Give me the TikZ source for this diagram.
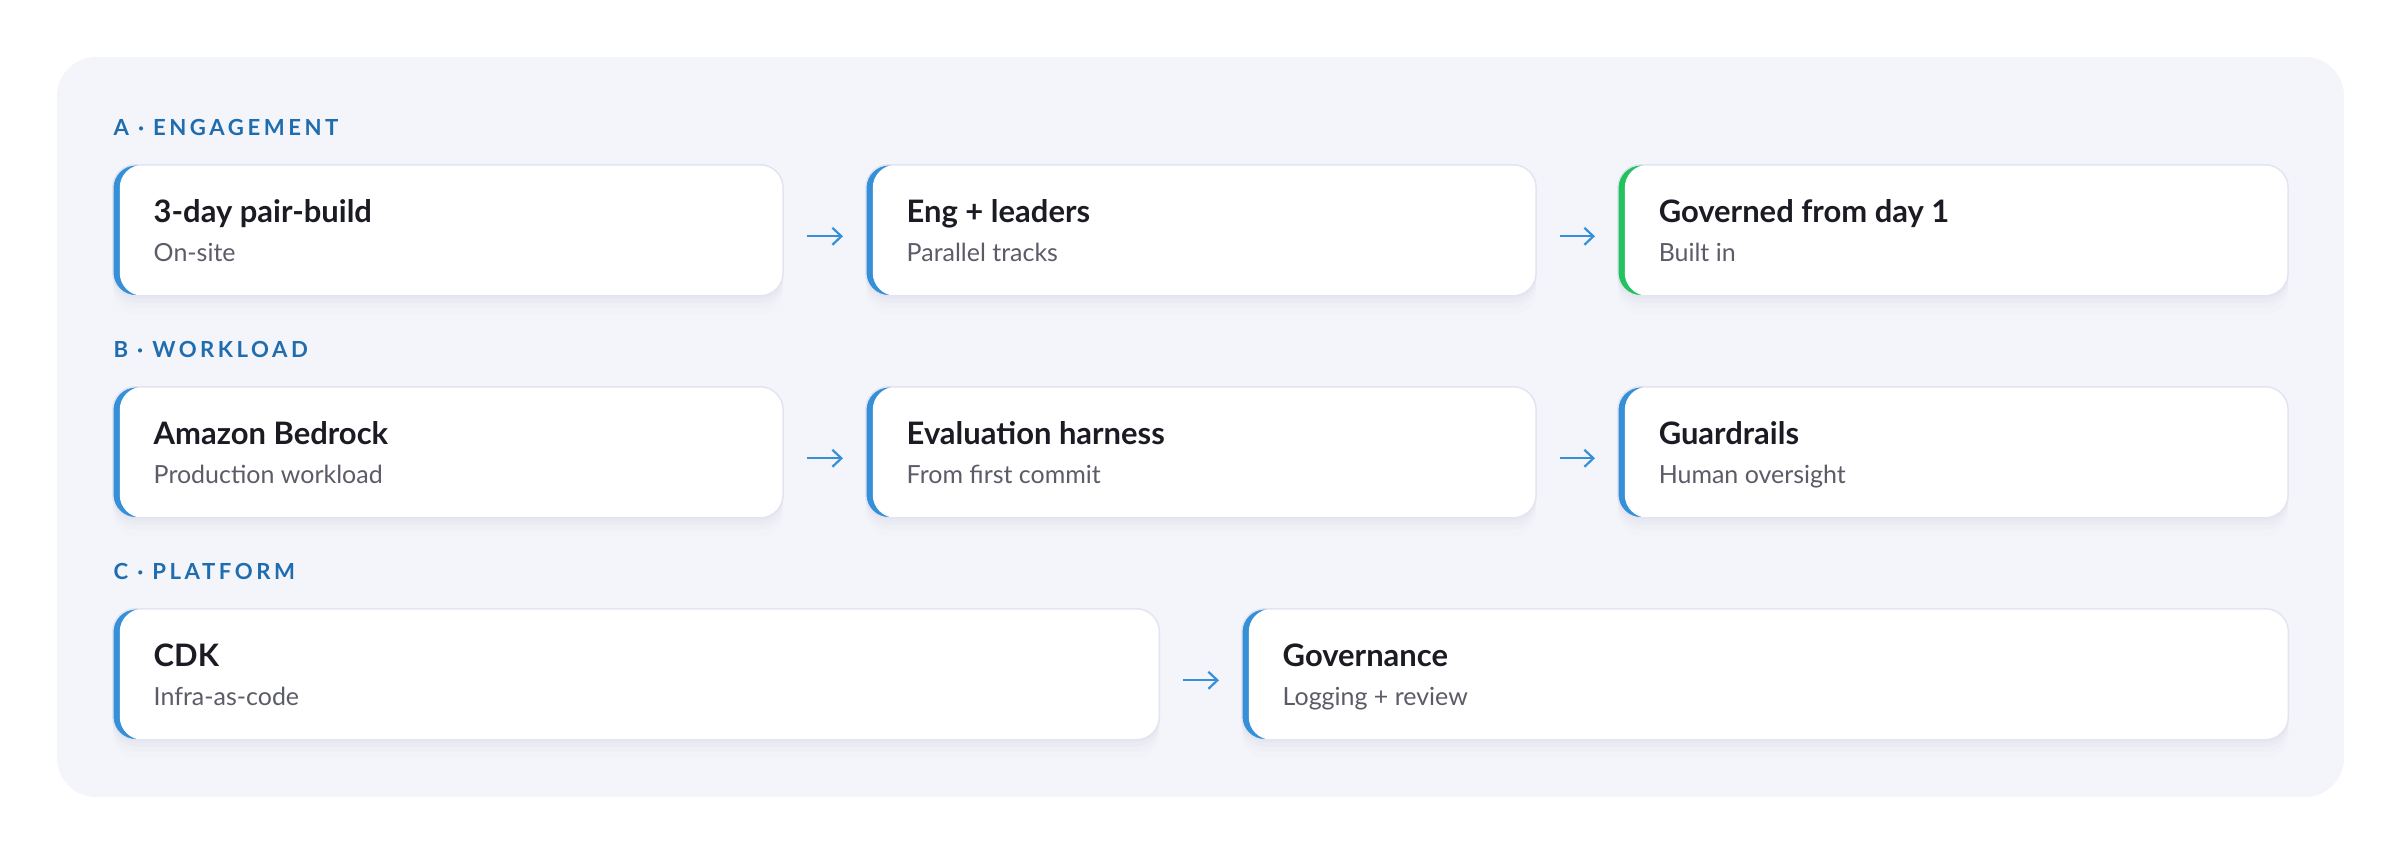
\documentclass[tikz,border=0pt]{standalone}
\usepackage{fontspec}
\setmainfont{Lato}
\usetikzlibrary{arrows.meta}

\definecolor{panelbg}{HTML}{F4F5FA}
\definecolor{cardline}{HTML}{E2E5F1}
\definecolor{barblue}{HTML}{3590D8}
\definecolor{bargreen}{HTML}{22C35E}
\definecolor{titleink}{HTML}{1B1B24}
\definecolor{subink}{HTML}{5B5C68}
\definecolor{rowlabel}{HTML}{1F6DAF}
\definecolor{shadowink}{HTML}{4A5580}

\tikzset{
  card/.style={draw=cardline, line width=0.015cm, fill=white,
    rounded corners=0.23cm, anchor=north west, inner sep=0pt,
    minimum width=6.7cm, minimum height=1.31cm,
    preaction={fill=shadowink, fill opacity=0.018, transform canvas={yshift=-0.03cm}},
    preaction={fill=shadowink, fill opacity=0.018, transform canvas={yshift=-0.07cm}},
    preaction={fill=shadowink, fill opacity=0.015, transform canvas={yshift=-0.12cm}},
    preaction={fill=shadowink, fill opacity=0.012, transform canvas={yshift=-0.18cm}},
    path picture={
      \fill[#1] (path picture bounding box.south west) rectangle (path picture bounding box.north east);
      \fill[white, rounded corners=0.23cm] ([xshift=0.07cm]path picture bounding box.south west)
        rectangle ([xshift=0.5cm]path picture bounding box.north east);}},
  card/.default=barblue,
  cardtitle/.style={anchor=base west, inner sep=0pt, text=titleink,
    font=\fontsize{8.8pt}{10pt}\selectfont\bfseries},
  cardsub/.style={anchor=base west, inner sep=0pt, text=subink,
    font=\fontsize{7.1pt}{8pt}\selectfont},
  rowhead/.style={anchor=base west, inner sep=0pt, text=rowlabel,
    font=\fontsize{6.3pt}{7pt}\selectfont\bfseries\addfontfeature{LetterSpace=16}},
  flow/.style={-{Straight Barb[length=0.09cm, width=0.17cm]}, barblue,
    line width=0.022cm, shorten <=0.23cm, shorten >=0.22cm}
}

\begin{document}
\begin{tikzpicture}[x=0.01cm, y=-0.01cm]
\useasboundingbox (0,0) rectangle (2400,854);
\fill [panelbg, rounded corners=0.39cm] (57,57) rectangle (2344,797);

% row A
\node [rowhead] (rowA) at (113,135) {A · ENGAGEMENT};
\node [card] (a1) at (112,164) {};
\node [card] (a2) at (865,164) {};
\node [card=bargreen] (a3) at (1617,164) {};
\node [cardtitle] (a1t) at ([xshift=0.41cm, yshift=-0.58cm]a1.north west) {3-day pair-build};
\node [cardsub] (a1s) at ([xshift=0.41cm, yshift=-0.97cm]a1.north west) {On-site};
\node [cardtitle] (a2t) at ([xshift=0.41cm, yshift=-0.58cm]a2.north west) {Eng + leaders};
\node [cardsub] (a2s) at ([xshift=0.41cm, yshift=-0.97cm]a2.north west) {Parallel tracks};
\node [cardtitle] (a3t) at ([xshift=0.41cm, yshift=-0.58cm]a3.north west) {Governed from day 1};
\node [cardsub] (a3s) at ([xshift=0.41cm, yshift=-0.97cm]a3.north west) {Built in};
\draw [flow] ([yshift=-0.06cm]a1.east) -- ([yshift=-0.06cm]a2.west);
\draw [flow] ([yshift=-0.06cm]a2.east) -- ([yshift=-0.06cm]a3.west);

% row B
\node [rowhead] (rowB) at (113,357) {B · WORKLOAD};
\node [card] (b1) at (112,386) {};
\node [card] (b2) at (865,386) {};
\node [card] (b3) at (1617,386) {};
\node [cardtitle] (b1t) at ([xshift=0.41cm, yshift=-0.58cm]b1.north west) {Amazon Bedrock};
\node [cardsub] (b1s) at ([xshift=0.41cm, yshift=-0.97cm]b1.north west) {Production workload};
\node [cardtitle] (b2t) at ([xshift=0.41cm, yshift=-0.58cm]b2.north west) {Evaluation harness};
\node [cardsub] (b2s) at ([xshift=0.41cm, yshift=-0.97cm]b2.north west) {From first commit};
\node [cardtitle] (b3t) at ([xshift=0.41cm, yshift=-0.58cm]b3.north west) {Guardrails};
\node [cardsub] (b3s) at ([xshift=0.41cm, yshift=-0.97cm]b3.north west) {Human oversight};
\draw [flow] ([yshift=-0.06cm]b1.east) -- ([yshift=-0.06cm]b2.west);
\draw [flow] ([yshift=-0.06cm]b2.east) -- ([yshift=-0.06cm]b3.west);

% row C
\node [rowhead] (rowC) at (113,579) {C · PLATFORM};
\node [card, minimum width=10.46cm] (c1) at (112,608) {};
\node [card, minimum width=10.46cm] (c2) at (1241,608) {};
\node [cardtitle] (c1t) at ([xshift=0.41cm, yshift=-0.58cm]c1.north west) {CDK};
\node [cardsub] (c1s) at ([xshift=0.41cm, yshift=-0.97cm]c1.north west) {Infra-as-code};
\node [cardtitle] (c2t) at ([xshift=0.41cm, yshift=-0.58cm]c2.north west) {Governance};
\node [cardsub] (c2s) at ([xshift=0.41cm, yshift=-0.97cm]c2.north west) {Logging + review};
\draw [flow] ([yshift=-0.06cm]c1.east) -- ([yshift=-0.06cm]c2.west);

\end{tikzpicture}
\end{document}
